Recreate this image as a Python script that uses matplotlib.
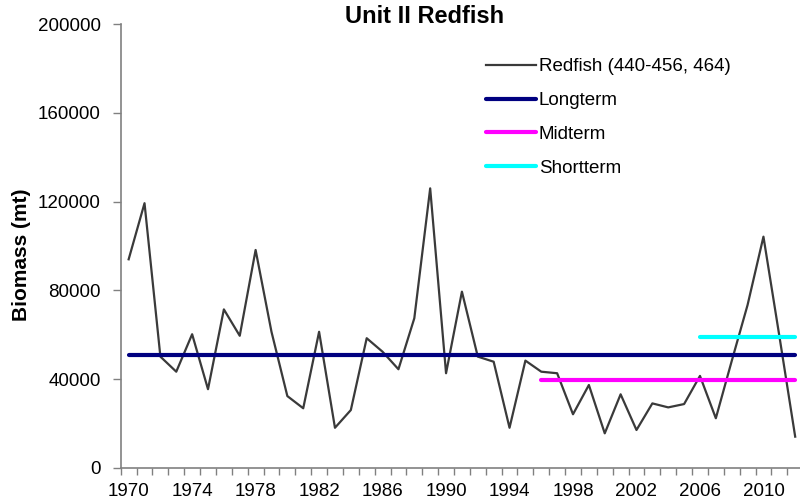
import matplotlib.pyplot as plt
import numpy as np

# ============ data ============
years = list(range(1970, 2013))
biomass = [94000, 119300, 50100, 43300, 60200, 35400, 71400, 59500, 98200, 61300,
           32300, 26800, 61300, 18000, 26000, 58400, 52300, 44400, 67400, 126000,
           42600, 79400, 50100, 47800, 18000, 48300, 43300, 42600, 24100, 37300,
           15500, 33100, 17000, 29000, 27200, 28700, 41400, 22300, 48100, 73400,
           104200, 59500, 14000]

longterm = 50800
midterm = 39600
midterm_start = 1996
shortterm = 59100
shortterm_start = 2006

series_label = 'Redfish (440-456, 464)'
title = 'Unit II Redfish'
ylabel = 'Biomass (mt)'
yticks = [0, 40000, 80000, 120000, 160000, 200000]
xlabel_years = list(range(1970, 2013, 4))

plt.rcParams['font.family'] = ['Liberation Sans', 'DejaVu Sans']

fig = plt.figure(figsize=(8, 5.03), dpi=100)
ax = fig.add_axes([0.1509, 0.0702, 0.853, 0.8815])

ax.plot(years, biomass, color='#3a3a3a', linewidth=1.6, label=series_label, zorder=3)
ax.plot([years[0], years[-1]], [longterm, longterm], color='#000080', linewidth=3,
        solid_capstyle='round', label='Longterm', zorder=4)
ax.plot([midterm_start, years[-1]], [midterm, midterm], color='#FF00FF', linewidth=3,
        solid_capstyle='round', label='Midterm', zorder=4)
ax.plot([shortterm_start, years[-1]], [shortterm, shortterm], color='#00FFFF', linewidth=3,
        solid_capstyle='round', label='Shortterm', zorder=4)

ax.set_xlim(years[0] - 0.5, years[-1] + 0.5)
ax.set_ylim(0, 200000)

# category-style axis: tick marks between years, labels on the years
ax.set_xticks(np.arange(years[0] - 0.5, years[-1] + 1.0, 1.0), minor=True)
ax.set_xticks(xlabel_years)
ax.set_xticklabels([str(y) for y in xlabel_years], fontsize=13.5)
ax.tick_params(axis='x', which='major', length=0, pad=11)
ax.tick_params(axis='x', which='minor', length=5, width=1, color='#808080', direction='out')

ax.set_yticks(yticks)
ax.set_yticklabels([str(v) for v in yticks], fontsize=13.5)
ax.tick_params(axis='y', length=6, width=1, color='#808080', direction='out', pad=8.5)

for side in ['top', 'right']:
    ax.spines[side].set_visible(False)
for side in ['left', 'bottom']:
    ax.spines[side].set_color('#808080')
    ax.spines[side].set_linewidth(1.2)

ax.set_ylabel(ylabel, fontsize=15, fontweight='bold')
ax.yaxis.set_label_coords(-0.132, 0.481)
fig.text(0.531, 0.968, title, ha='center', va='center', fontsize=17, fontweight='bold')

ax.legend(loc='upper left', bbox_to_anchor=(0.598, 0.899), bbox_transform=fig.transFigure,
          frameon=False, fontsize=13.5, handlelength=2.67, handletextpad=0.15,
          labelspacing=0.89, borderaxespad=0)

plt.savefig('out.png', dpi=100, facecolor='white')
